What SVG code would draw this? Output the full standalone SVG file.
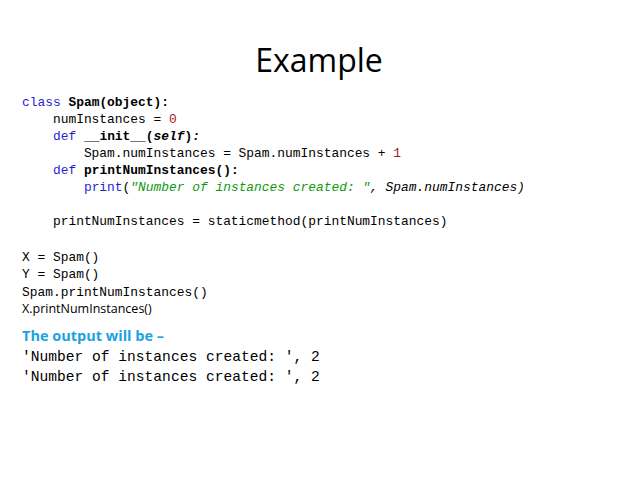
<svg xmlns="http://www.w3.org/2000/svg" width="638" height="478" viewBox="0 0 638 478">
<style>
.c{font-family:"Liberation Mono","DejaVu Sans Mono",monospace;font-size:12.9px;fill:#000;white-space:pre}
.k{fill:#1f1fd6}.n{fill:#a31515}.s{fill:#119911;font-style:italic}.b{font-weight:bold}.i{font-style:italic}
.o{font-family:"Liberation Mono","DejaVu Sans Mono",monospace;font-size:14.6px;fill:#000;white-space:pre}
</style>
<rect width="638" height="478" fill="#fff"/>
<text x="319" y="72" text-anchor="middle" font-family="'Open Sans','Liberation Sans',sans-serif" font-size="32" fill="#000">Example</text>
<text class="c" xml:space="preserve"><tspan x="22" y="106"><tspan class="k">class</tspan> <tspan class="b">Spam(object):</tspan></tspan><tspan x="22" y="123">    numInstances = <tspan class="n">0</tspan></tspan><tspan x="22" y="140">    <tspan class="k">def</tspan> <tspan class="b">__init__(<tspan class="i">self</tspan>)<tspan class="i">:</tspan></tspan></tspan><tspan x="22" y="157">        Spam.numInstances = Spam.numInstances + <tspan class="n">1</tspan></tspan><tspan x="22" y="174">    <tspan class="k">def</tspan> <tspan class="b">printNumInstances():</tspan></tspan><tspan x="22" y="191">        <tspan class="k">print</tspan>(<tspan class="s">"Number of instances created: "</tspan><tspan class="i">, Spam.numInstances)</tspan></tspan><tspan x="22" y="225">    printNumInstances = staticmethod(printNumInstances)</tspan><tspan x="22" y="261">X = Spam()</tspan><tspan x="22" y="278">Y = Spam()</tspan><tspan x="22" y="296">Spam.printNumInstances()</tspan></text>
<text x="22" y="313" font-family="'Open Sans','Liberation Sans',sans-serif" font-size="12.5" fill="#000">X.printNumInstances()</text>
<text x="22" y="341" font-family="'Open Sans','Liberation Sans',sans-serif" font-size="14.5" font-weight="bold" fill="#1aa3e0">The output will be –</text>
<text class="o" xml:space="preserve"><tspan x="22" y="361">'Number of instances created: ', 2</tspan><tspan x="22" y="381">'Number of instances created: ', 2</tspan></text>
</svg>
